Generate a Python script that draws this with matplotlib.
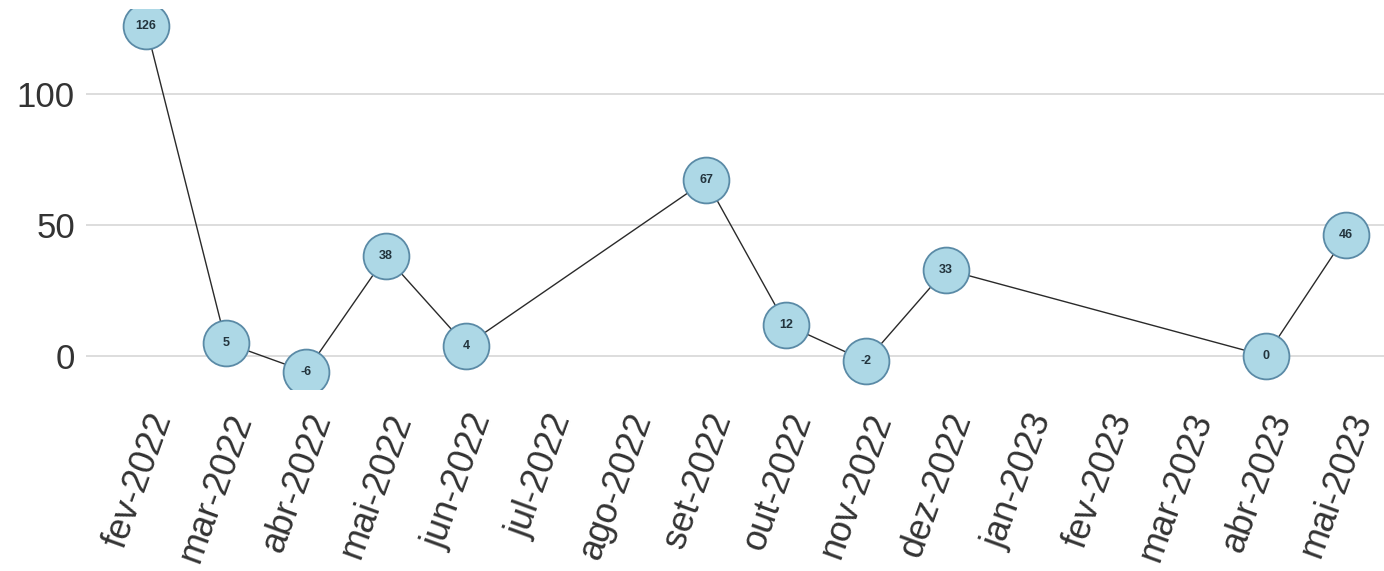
import matplotlib
matplotlib.use("Agg")
from matplotlib import pyplot as plt

# data
months = ["fev-2022", "mar-2022", "abr-2022", "mai-2022", "jun-2022", "jul-2022",
          "ago-2022", "set-2022", "out-2022", "nov-2022", "dez-2022", "jan-2023",
          "fev-2023", "mar-2023", "abr-2023", "mai-2023"]
obs_months = ["fev-2022", "mar-2022", "abr-2022", "mai-2022", "jun-2022", "set-2022",
              "out-2022", "nov-2022", "dez-2022", "abr-2023", "mai-2023"]
values = [126, 5, -6, 38, 4, 67, 12, -2, 33, 0, 46]
yticks = [0, 50, 100]

plt.rcParams['font.family'] = ['Liberation Sans', 'DejaVu Sans']

fig = plt.figure(figsize=(13.84, 5.71), dpi=100)
# panel placement in pixels
left, right, top, bottom = 86, 1384, 8.6, 389
ax = fig.add_axes([left / 1384, 1 - bottom / 571, (right - left) / 1384, (bottom - top) / 571])

xpos = [months.index(m) for m in obs_months]
ax.plot(xpos, values, color="#2a2a2a", lw=1.0, zorder=2)
ax.plot(xpos, values, "o", ms=33, mfc="#ADD8E6", mec="#5A8AA6", mew=1.3, zorder=3)
for x, v in zip(xpos, values):
    ax.text(x, v, str(v), ha="center", va="center", fontsize=9, fontweight="bold",
            color="#23343d", zorder=4)

ax.set_xlim(-0.75, 15.475)
ax.set_ylim(-12.6, 132.6)
ax.set_yticks(yticks)
ax.set_xticks(range(len(months)))
ax.set_xticklabels(months, rotation=70, ha="right", va="top", rotation_mode="anchor")
ax.tick_params(axis="y", labelsize=25, length=0, pad=8, labelcolor="#333333")
ax.tick_params(axis="x", labelsize=26, length=0, pad=14, labelcolor="#333333")
ax.grid(axis="y", color="#DDDDDD", lw=1.4)
ax.set_axisbelow(True)
for s in ax.spines.values():
    s.set_visible(False)

fig.savefig("out.png", dpi=100)
